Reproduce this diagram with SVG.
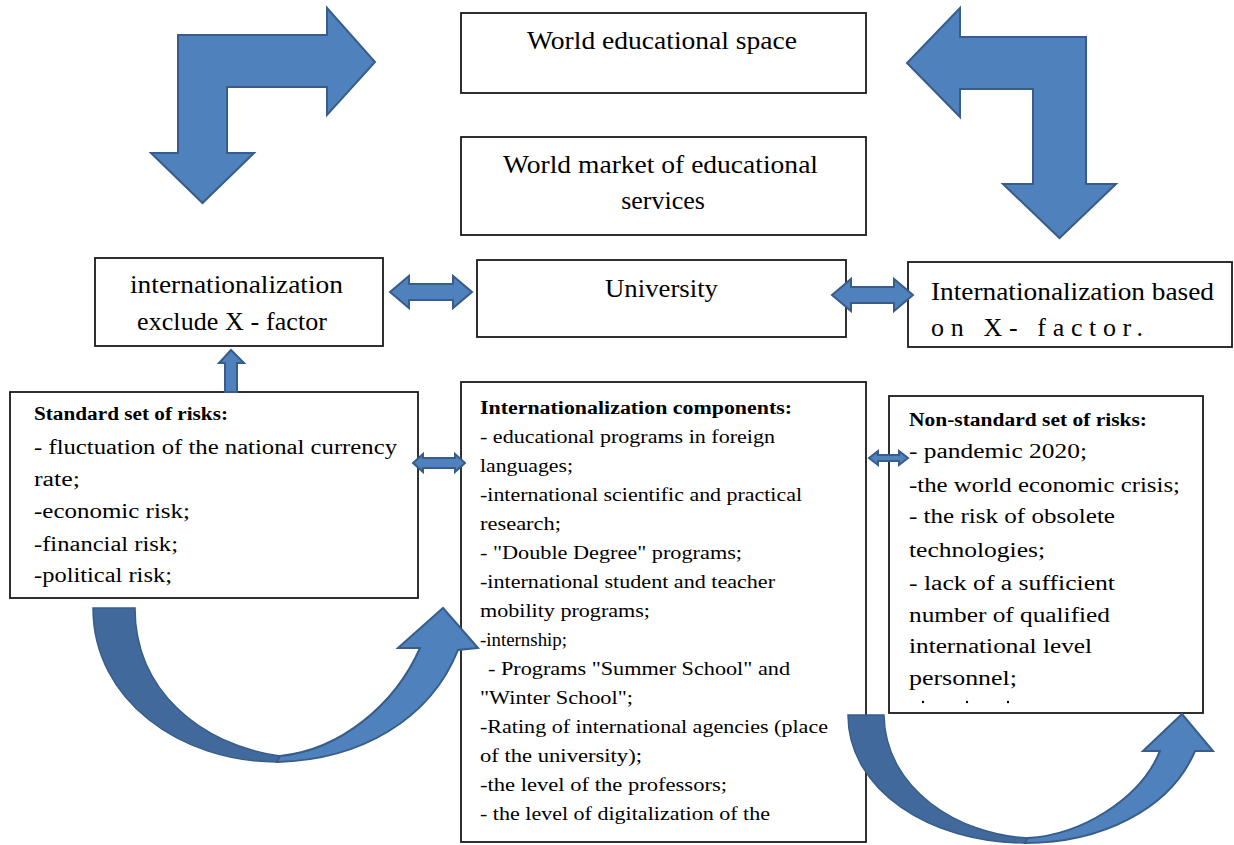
<svg xmlns="http://www.w3.org/2000/svg" width="1234" height="845" viewBox="0 0 1234 845">
<defs>
<style>
.box{fill:#fff;stroke:#1a1a1a;stroke-width:1.8}
.arr{fill:#4f81bd;stroke:#385d8a;stroke-width:2;stroke-linejoin:miter}
.dark{fill:#41699c;stroke:#385d8a;stroke-width:1.5}
.t{font-family:"Liberation Serif","Times New Roman",Tinos,serif;fill:#000}
.big{font-size:26px}
.mid{font-size:20px}
.sm{font-size:18px}
.hd{font-size:18px;font-weight:bold}
</style>
</defs>
<rect width="1234" height="845" fill="#fff"/>

<g id="world-space">
<rect class="box" x="461" y="13" width="405" height="80"/>
<text class="t big" x="527" y="49" textLength="270" lengthAdjust="spacingAndGlyphs">World educational  space</text>
</g>

<g id="world-market">
<rect class="box" x="461" y="137" width="405" height="98"/>
<text class="t big" x="503" y="173" textLength="315" lengthAdjust="spacingAndGlyphs">World market of educational</text>
<text class="t big" x="663" y="209" text-anchor="middle">services</text>
</g>

<g id="intl-exclude">
<rect class="box" x="95" y="258" width="288" height="88"/>
<text class="t big" x="130" y="293" textLength="213" lengthAdjust="spacingAndGlyphs">internationalization</text>
<text class="t big" x="137" y="330" textLength="190" lengthAdjust="spacing">exclude  X - factor</text>
</g>

<g id="university">
<rect class="box" x="477" y="260" width="369" height="77"/>
<text class="t big" x="605" y="297" textLength="113" lengthAdjust="spacingAndGlyphs">University</text>
</g>

<g id="intl-based">
<rect class="box" x="908" y="262" width="324" height="85"/>
<text class="t big" x="931" y="300" textLength="283" lengthAdjust="spacingAndGlyphs">Internationalization based</text>
<text class="t big" x="931" y="336" textLength="212" lengthAdjust="spacing">on  X- factor.</text>
</g>

<g id="standard-risks">
<rect class="box" x="10" y="392" width="408" height="206"/>
<text class="t hd" x="34" y="420" textLength="194" lengthAdjust="spacingAndGlyphs">Standard set of risks:</text>
<text class="t mid" x="34" y="454" textLength="363" lengthAdjust="spacingAndGlyphs">- fluctuation of the national currency</text>
<text class="t mid" x="34" y="486" textLength="46" lengthAdjust="spacingAndGlyphs">rate;</text>
<text class="t mid" x="34" y="518" textLength="156" lengthAdjust="spacingAndGlyphs">-economic risk;</text>
<text class="t mid" x="34" y="551" textLength="144" lengthAdjust="spacingAndGlyphs">-financial risk;</text>
<text class="t mid" x="34" y="582" textLength="138" lengthAdjust="spacingAndGlyphs">-political risk;</text>
</g>

<g id="components">
<rect class="box" x="461" y="382" width="405" height="460"/>
<text class="t hd" x="480" y="414" textLength="312" lengthAdjust="spacingAndGlyphs">Internationalization components:</text>
<text class="t sm" x="480" y="443" textLength="295" lengthAdjust="spacingAndGlyphs">- educational programs in foreign</text>
<text class="t sm" x="480" y="472" textLength="93" lengthAdjust="spacingAndGlyphs">languages;</text>
<text class="t sm" x="480" y="501" textLength="322" lengthAdjust="spacingAndGlyphs">-international scientific and practical</text>
<text class="t sm" x="480" y="530" textLength="81" lengthAdjust="spacingAndGlyphs">research;</text>
<text class="t sm" x="480" y="559" textLength="262" lengthAdjust="spacingAndGlyphs">- "Double Degree" programs;</text>
<text class="t sm" x="480" y="588" textLength="295" lengthAdjust="spacingAndGlyphs">-international student and teacher</text>
<text class="t sm" x="480" y="617" textLength="170" lengthAdjust="spacingAndGlyphs">mobility programs;</text>
<text class="t sm" x="480" y="646" textLength="87" lengthAdjust="spacingAndGlyphs">-internship;</text>
<text class="t sm" x="488" y="675" textLength="302" lengthAdjust="spacingAndGlyphs">- Programs  "Summer School" and</text>
<text class="t sm" x="480" y="704" textLength="153" lengthAdjust="spacingAndGlyphs">"Winter School";</text>
<text class="t sm" x="480" y="733" textLength="348" lengthAdjust="spacingAndGlyphs">-Rating  of international agencies  (place</text>
<text class="t sm" x="480" y="762" textLength="162" lengthAdjust="spacingAndGlyphs">of the university);</text>
<text class="t sm" x="480" y="791" textLength="247" lengthAdjust="spacingAndGlyphs">-the level of the professors;</text>
<text class="t sm" x="480" y="820" textLength="290" lengthAdjust="spacingAndGlyphs">- the level of digitalization  of the</text>
</g>

<g id="non-standard-risks">
<rect class="box" x="889" y="396" width="314" height="317"/>
<text class="t hd" x="909" y="426" textLength="238" lengthAdjust="spacingAndGlyphs">Non-standard set of risks:</text>
<text class="t mid" x="909" y="458" textLength="178" lengthAdjust="spacingAndGlyphs">- pandemic 2020;</text>
<text class="t mid" x="909" y="492" textLength="271" lengthAdjust="spacingAndGlyphs">-the world economic crisis;</text>
<text class="t mid" x="909" y="523" textLength="206" lengthAdjust="spacingAndGlyphs">- the risk  of obsolete</text>
<text class="t mid" x="909" y="557" textLength="136" lengthAdjust="spacingAndGlyphs">technologies;</text>
<text class="t mid" x="909" y="590" textLength="206" lengthAdjust="spacingAndGlyphs">- lack of a sufficient</text>
<text class="t mid" x="909" y="622" textLength="201" lengthAdjust="spacingAndGlyphs">number of qualified</text>
<text class="t mid" x="909" y="653" textLength="183" lengthAdjust="spacingAndGlyphs">international level</text>
<text class="t mid" x="909" y="685" textLength="108" lengthAdjust="spacingAndGlyphs">personnel;</text>
<circle cx="923" cy="702" r="1.2" fill="#000"/>
<circle cx="967" cy="702" r="1.2" fill="#000"/>
<circle cx="1008" cy="702" r="1.2" fill="#000"/>
</g>

<g id="connectors">
<polygon class="arr" points="178,35 327,35 327,8 375,62 327,115 327,87 227,87 227,153 254,153 202.5,203 151,153 178,153"/>
<polygon class="arr" points="1086,37 960,37 960,8 907,63 960,117 960,89 1033,89 1033,184 1003,184 1059.5,238 1116,184 1086,184"/>
<polygon class="arr" points="390,292 409,276 409,284 453,284 453,276 472,292 453,308 453,300 409,300 409,308"/>
<polygon class="arr" points="832,295 851,279 851,287 894,287 894,279 913,295 894,311 894,303 851,303 851,311"/>
<polygon class="arr" points="231,350 244,363 237,363 237,392 225,392 225,363 219,363"/>
<polygon class="arr" points="413,463 423,454 423,458 455,458 455,454 465,463 455,472 455,468 423,468 423,472"/>
<polygon class="arr" points="869,458 878,451 878,455 899,455 899,451 908,458 899,465 899,461 878,461 878,465"/>
<path class="dark" d="M93,608 L135,608 C135,690 200,745 280,756 L277,762 C180,762 93,700 93,608 Z"/>
<path class="arr" d="M277,762 C360,760 430,720 458,650 L478,648 L443,608 L398,648 L420,648 C395,705 340,750 280,756 Z"/>
<path class="dark" d="M848,715 L884,715 C885,790 960,835 1028,838 L1025,843 C930,843 848,790 848,715 Z"/>
<path class="arr" d="M1025,843 C1100,843 1170,810 1195,751 L1213,751 L1182,714 L1143,751 L1160,751 C1140,800 1080,835 1028,838 Z"/>
</g>
</svg>
